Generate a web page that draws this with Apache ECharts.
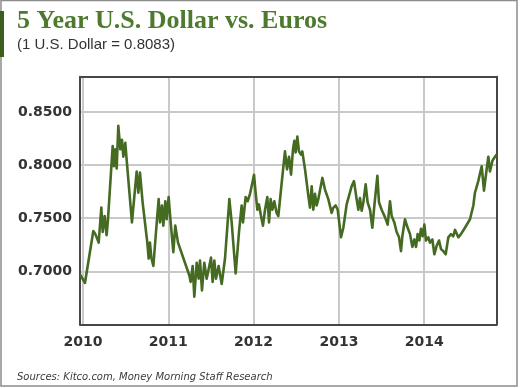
<!DOCTYPE html>
<html>
<head>
<meta charset="utf-8">
<script src="https://cdn.jsdelivr.net/npm/echarts@6/dist/echarts.min.js"></script>
<style>
html,body{margin:0;padding:0;background:#fff;}
#chart{width:520px;height:388px;}
</style>
</head>
<body>
<div id="chart"></div>
<script>
// Decimal-year dates and USD->EUR values
const dates = [
2009.965,2010.023,2010.121,2010.145,2010.184,2010.215,2010.231,2010.254,2010.277,2010.293,
2010.348,2010.363,2010.379,2010.395,2010.414,2010.438,2010.457,2010.473,2010.496,2010.512,
2010.574,2010.629,2010.649,2010.668,2010.699,2010.754,2010.770,2010.785,2010.801,2010.825,
2010.856,2010.887,2010.903,2010.926,2010.942,2010.965,2010.981,2011.004,2011.028,2011.059,
2011.082,2011.114,2011.247,2011.262,2011.286,2011.305,2011.333,2011.356,2011.372,2011.395,
2011.422,2011.450,2011.481,2011.501,2011.520,2011.540,2011.559,2011.590,2011.626,2011.665,
2011.716,2011.743,2011.790,2011.829,2011.860,2011.876,2011.907,2011.930,2011.958,2011.985,
2012.005,2012.024,2012.044,2012.063,2012.087,2012.110,2012.134,2012.161,2012.181,2012.200,
2012.220,2012.243,2012.270,2012.290,2012.329,2012.368,2012.392,2012.415,2012.439,2012.462,
2012.478,2012.493,2012.513,2012.532,2012.556,2012.571,2012.603,2012.642,2012.661,2012.681,
2012.700,2012.720,2012.739,2012.759,2012.806,2012.837,2012.876,2012.915,2012.935,2012.962,
2012.986,2013.025,2013.052,2013.091,2013.149,2013.177,2013.208,2013.228,2013.247,2013.267,
2013.287,2013.314,2013.337,2013.365,2013.392,2013.416,2013.451,2013.470,2013.501,2013.540,
2013.572,2013.599,2013.619,2013.650,2013.677,2013.705,2013.728,2013.744,2013.775,2013.806,
2013.834,2013.861,2013.884,2013.904,2013.923,2013.943,2013.962,2013.982,2014.002,2014.021,
2014.049,2014.068,2014.096,2014.119,2014.146,2014.174,2014.197,2014.224,2014.252,2014.283,
2014.314,2014.341,2014.361,2014.400,2014.431,2014.478,2014.537,2014.576,2014.595,2014.634,
2014.674,2014.701,2014.732,2014.752,2014.771,2014.799,2014.822,2014.849
];
const values = [
0.697,0.689,0.738,0.735,0.727,0.760,0.737,0.752,0.734,0.749,
0.818,0.799,0.815,0.797,0.837,0.815,0.824,0.808,0.821,0.805,
0.746,0.794,0.774,0.793,0.765,0.727,0.712,0.727,0.713,0.705,
0.737,0.768,0.746,0.762,0.743,0.766,0.749,0.770,0.746,0.718,
0.743,0.727,0.696,0.690,0.705,0.676,0.708,0.693,0.710,0.682,
0.708,0.693,0.705,0.713,0.690,0.710,0.693,0.705,0.688,0.712,
0.768,0.746,0.698,0.737,0.762,0.746,0.770,0.766,0.773,0.783,
0.791,0.774,0.758,0.763,0.752,0.743,0.758,0.770,0.746,0.768,
0.758,0.766,0.755,0.752,0.783,0.813,0.796,0.808,0.791,0.815,
0.823,0.812,0.827,0.813,0.810,0.813,0.796,0.771,0.760,0.780,
0.758,0.773,0.762,0.768,0.788,0.777,0.768,0.755,0.760,0.762,
0.758,0.732,0.741,0.763,0.780,0.785,0.768,0.758,0.769,0.757,
0.765,0.782,0.765,0.758,0.741,0.762,0.790,0.765,0.758,0.751,
0.744,0.766,0.752,0.746,0.737,0.732,0.719,0.733,0.749,0.741,
0.735,0.723,0.730,0.723,0.735,0.729,0.740,0.733,0.744,0.729,
0.732,0.727,0.730,0.716,0.724,0.729,0.721,0.719,0.716,0.732,
0.735,0.733,0.739,0.732,0.735,0.741,0.749,0.762,0.774,0.785,
0.799,0.776,0.796,0.808,0.794,0.804,0.807,0.810
];
const yearTicks = [2010, 2011, 2012, 2013, 2014];
const titleText = '5 Year U.S. Dollar vs. Euros';
const subtitleText = '(1 U.S. Dollar = 0.8083)';
const sourceText = 'Sources: Kitco.com, Money Morning Staff Research';

const seriesData = dates.map((d, i) => [d, values[i]]);
const frame = { show: true, lineStyle: { color: '#474747', width: 2 } };
const labelFont = { fontFamily: 'DejaVu Sans', fontWeight: 'bold', fontSize: 14, color: '#333' };

const chart = echarts.init(document.getElementById('chart'), null, { renderer: 'canvas' });
chart.setOption({
  animation: false,
  backgroundColor: '#fff',
  grid: { left: 80, top: 76.7, right: 23.3, bottom: 63.7, containLabel: false },
  xAxis: [{
    type: 'value', min: 2009.965, max: 2014.85, position: 'bottom',
    axisLine: frame,
    axisTick: { show: false, customValues: yearTicks },
    axisLabel: Object.assign({ customValues: yearTicks, margin: 11, formatter: v => String(Math.round(v)) }, labelFont),
    splitLine: { show: true, lineStyle: { color: '#c9c9c9', width: 2 } }
  }, {
    type: 'value', min: 2009.965, max: 2014.85, position: 'top',
    axisLine: frame, axisTick: { show: false }, axisLabel: { show: false }, splitLine: { show: false }
  }],
  yAxis: [{
    type: 'value', min: 0.65, max: 0.8834, interval: 0.05, position: 'left',
    axisLine: frame,
    axisTick: { show: false },
    axisLabel: Object.assign({ margin: 8, showMaxLabel: false,
      formatter: v => (v > 0.69 && v < 0.86) ? v.toFixed(4) : '' }, labelFont),
    splitLine: { show: true, lineStyle: { color: '#c9c9c9', width: 2 } }
  }, {
    type: 'value', min: 0.65, max: 0.8834, position: 'right',
    axisLine: frame, axisTick: { show: false }, axisLabel: { show: false }, splitLine: { show: false }
  }],
  series: [{
    type: 'line', data: seriesData, showSymbol: false, symbol: 'none',
    lineStyle: { color: '#456a22', width: 2.6, join: 'round' },
    z: 5
  }],
  graphic: [
    { type: 'rect', shape: { x: 1, y: 0.5, width: 516, height: 385.5 },
      style: { fill: 'none', stroke: '#8c8c8c', lineWidth: 1.5 }, silent: true },
    { type: 'rect', shape: { x: 0, y: 11, width: 4, height: 46 },
      style: { fill: '#3b5d1d' }, silent: true },
    { type: 'text', style: { x: 17, y: 21.4, text: titleText, fill: '#4e7a2d',
      font: 'bold 26px "Liberation Serif"', textVerticalAlign: 'middle' } },
    { type: 'text', style: { x: 17, y: 44.9, text: subtitleText, fill: '#333',
      font: '15px "Liberation Sans"', textVerticalAlign: 'middle' } },
    { type: 'text', style: { x: 17, y: 377, text: sourceText, fill: '#3a3a3a',
      font: 'italic 10px "DejaVu Sans"', textVerticalAlign: 'middle' } }
  ]
});
</script>
</body>
</html>
